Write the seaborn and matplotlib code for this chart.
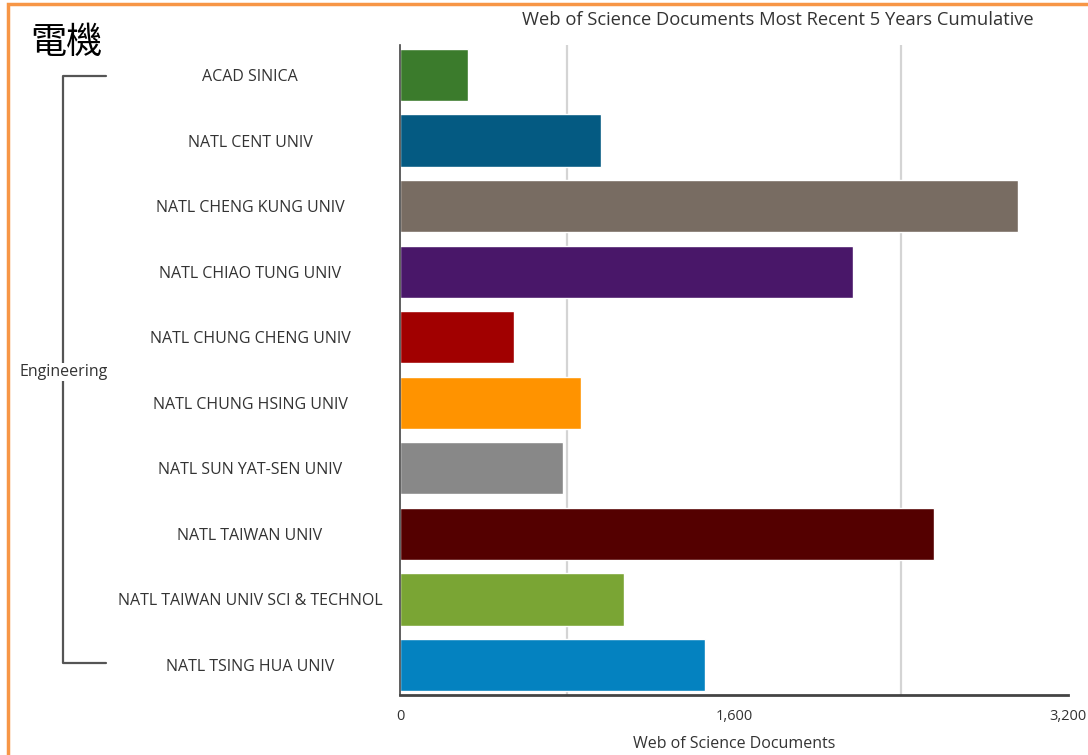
import pandas as pd
import matplotlib.pyplot as plt
import matplotlib.patches as patches
import seaborn as sns

# values
institutions = [
    "ACAD SINICA",
    "NATL CENT UNIV",
    "NATL CHENG KUNG UNIV",
    "NATL CHIAO TUNG UNIV",
    "NATL CHUNG CHENG UNIV",
    "NATL CHUNG HSING UNIV",
    "NATL SUN YAT-SEN UNIV",
    "NATL TAIWAN UNIV",
    "NATL TAIWAN UNIV SCI & TECHNOL",
    "NATL TSING HUA UNIV",
]
documents = [326, 965, 2962, 2170, 547, 869, 782, 2558, 1075, 1459]
bar_colors = [
    "#3b7b2c", "#045a82", "#786c62", "#491769", "#a10000",
    "#ff9300", "#888888", "#540000", "#7aa534", "#0482c0",
]
x_ticks = [0, 1600, 3200]
x_tick_labels = ["0", "1,600", "3,200"]
grid_at = [800, 2400]

sns.set_theme(style="white")
plt.rcParams["font.family"] = ["Open Sans", "Noto Sans CJK TC", "DejaVu Sans"]
text_color = "#333333"

df = pd.DataFrame({"Institution": institutions, "Documents": documents})

fig = plt.figure(figsize=(10.88, 7.55), dpi=100)
ax = fig.add_axes([400 / 1088, 60 / 755, 668 / 1088, 650 / 755])

for g in grid_at:
    ax.axvline(g, color="#d4d4d4", linewidth=1.6, zorder=0)

sns.barplot(
    data=df, y="Institution", x="Documents", hue="Institution",
    palette=bar_colors, orient="h", width=0.8, legend=False,
    saturation=1, ax=ax, zorder=2,
)

ax.set_xlim(0, 3200)
ax.set_ylim(len(institutions) - 0.54, -0.46)
ax.set_xticks(x_ticks)
ax.set_xticklabels(x_tick_labels, fontsize=10.5, color=text_color)
ax.tick_params(axis="x", length=0, pad=10)
ax.set_yticks(range(len(institutions)))
ax.set_yticklabels(institutions, fontsize=11.5, color=text_color, ha="center")
ax.tick_params(axis="y", length=0, pad=108)
ax.set_ylabel("")
ax.set_xlabel("Web of Science Documents", fontsize=11.5, color=text_color)
ax.xaxis.label.set_va("center")
ax.xaxis.set_label_coords(0.5, -(744 - 695) / 650)

for side in ["top", "right"]:
    ax.spines[side].set_visible(False)
ax.spines["bottom"].set_color("#444444")
ax.spines["bottom"].set_linewidth(2)
ax.spines["left"].set_color("#444444")
ax.spines["left"].set_linewidth(1.2)

# bracket grouping all rows
bx0, bx1 = 63 / 1088, 106 / 1088
ytop = 1 - 76 / 755
ybot = 1 - 663 / 755
fig.add_artist(plt.Line2D([bx1, bx0, bx0, bx1], [ytop, ytop, ybot, ybot],
                          color="#555555", linewidth=1.6))
fig.text(64 / 1088, 1 - 372 / 755, "Engineering", ha="center", va="center",
         fontsize=11.5, color=text_color,
         bbox=dict(facecolor="white", edgecolor="none", pad=1))

fig.text(778 / 1088, 1 - 20 / 755,
         "Web of Science Documents Most Recent 5 Years Cumulative",
         ha="center", va="center", fontsize=13.2, color=text_color)
fig.text(30 / 1088, 1 - 43 / 755, "電機", ha="left", va="center",
         fontsize=26, color="black",
         family=["Noto Sans CJK TC", "DejaVu Sans"])

# orange frame
fig.add_artist(patches.Rectangle((8 / 1088, -0.1), 1.2, 1.1 - 4 / 755,
                                 transform=fig.transFigure, fill=False,
                                 edgecolor="#f79646", linewidth=2.5))

fig.savefig("out.png", dpi=100)
